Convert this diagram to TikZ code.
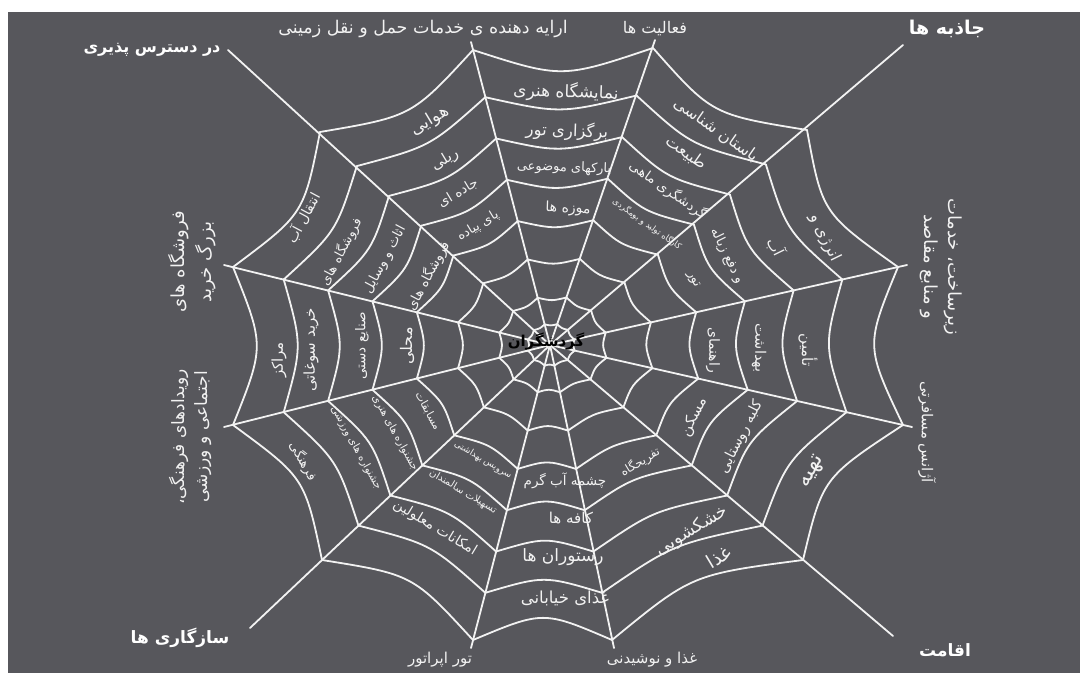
\documentclass[tikz,border=0pt]{standalone}
\usepackage{fontspec}
\usetikzlibrary{calc}
\newfontfamily\arabicfont[Script=Arabic]{DejaVu Sans}
\TeXXeTstate=1
\newcommand\fatext[1]{{\arabicfont\beginR #1\endR}}
\newcommand\fsz[1]{\fontsize{#1}{#1}\selectfont}
\definecolor{bg}{RGB}{87,87,92}
\definecolor{web}{RGB}{242,242,242}
\tikzset{
  webline/.style={draw=web, line width=1.8pt, line cap=round, line join=round},
  lbl/.style={text=web, inner sep=0pt, align=center},
  cat/.style={text=white, inner sep=0pt, align=center, font=\bfseries}
}
\begin{document}
\begin{tikzpicture}[x=1pt,y=-1pt]
\useasboundingbox (0,0) rectangle (1084,675);
\fill[white] (0,0) rectangle (1084,675);
\fill[bg] (8,12) rectangle (1080,673);
% centre and outer vertices of the twelve spokes
\coordinate (C) at (550,345);
\coordinate (V1) at (473,50);
\coordinate (V2) at (653,48);
\coordinate (V3) at (807,130);
\coordinate (V4) at (898,267);
\coordinate (V5) at (903,425);
\coordinate (V6) at (803,560);
\coordinate (V7) at (612,640);
\coordinate (V8) at (473,640);
\coordinate (V9) at (322,560);
\coordinate (V10) at (233,425);
\coordinate (V11) at (233,267);
\coordinate (V12) at (320,132);
% spoke ends
\coordinate (E1) at (471,42);
\coordinate (E2) at (655,40);
\coordinate (E3) at (903,45);
\coordinate (E4) at (907,265);
\coordinate (E5) at (912,427);
\coordinate (E6) at (893,636);
\coordinate (E7) at (614,648);
\coordinate (E8) at (471,648);
\coordinate (E9) at (250,628);
\coordinate (E10) at (224,427);
\coordinate (E11) at (224,265);
\coordinate (E12) at (228,50);
\foreach \a/\b in {1/2,2/3,3/4,4/5,5/6,6/7,7/8,8/9,9/10,10/11,11/12,12/1}{
  \coordinate (M\a) at ($(V\a)!0.5!(V\b)$);
}
% spokes
\foreach \i in {1,...,12}{
  \draw[webline] (C) -- (E\i);
}
% rings
\foreach \f/\k in {1/0.10,0.84/0.07,0.70/0.07,0.56/0.07,0.42/0.07,0.29/0.07,0.16/0.07,0.07/0.07}{
  \pgfmathsetmacro\g{\f*(1-\k)}
  \foreach \a/\b in {1/2,2/3,3/4,4/5,5/6,6/7,7/8,8/9,9/10,10/11,11/12,12/1}{
    \draw[webline] ($(C)!\f!(V\a)$) .. controls ($(C)!\g!(M\a)$) .. ($(C)!\f!(V\b)$);
  }
}
% category labels
\node[cat] (c1) at (152,50) {\fsz{16}\fatext{در دسترس پذیری}};
\node[lbl] (c2) at (423,29) {\fsz{17.5}\fatext{ارایه دهنده ی خدمات حمل و نقل زمینی}};
\node[lbl] (c3) at (655,29) {\fsz{16}\fatext{فعالیت ها}};
\node[cat] (c4) at (947,29) {\fsz{19}\fatext{جاذبه ها}};
\node[lbl, rotate=-90] (c5) at (941,267) {\fsz{18}\fatext{زیرساخت، خدمات}\\[5pt]\fsz{18}\fatext{و منابع مقاصد}};
\node[lbl, rotate=-90] (c6) at (927,432) {\fsz{15}\fatext{آژانس مسافرتی}};
\node[cat] (c7) at (945,650) {\fsz{17}\fatext{اقامت}};
\node[lbl] (c8) at (652,660) {\fsz{15}\fatext{غذا و نوشیدنی}};
\node[lbl] (c9) at (440,660) {\fsz{15}\fatext{تور اپراتور}};
\node[cat] (c10) at (180,638) {\fsz{17}\fatext{سازگاری ها}};
\node[lbl, rotate=90] (c11) at (190,437) {\fsz{17}\fatext{رویدادهای فرهنگی،}\\[5pt]\fsz{17}\fatext{اجتماعی و ورزشی}};
\node[lbl, rotate=90] (c12) at (192,262) {\fsz{18}\fatext{فروشگاه های}\\[5pt]\fsz{18}\fatext{بزرگ خرید}};
% sector 1
\node[lbl, rotate=-2] (a1) at (566,92) {\fsz{17}\fatext{نمایشگاه هنری}};
\node[lbl, rotate=-2] (a2) at (567,131) {\fsz{16.5}\fatext{برگزاری تور}};
\node[lbl, rotate=-2] (a3) at (564,168) {\fsz{13}\fatext{پارکهای موضوعی}};
\node[lbl, rotate=-2] (a4) at (568,209) {\fsz{14}\fatext{موزه ها}};
% sector 2
\node[lbl, rotate=-35] (b1) at (716,130) {\fsz{16}\fatext{باستان شناسی}};
\node[lbl, rotate=-35] (b2) at (686,153) {\fsz{16}\fatext{طبیعت}};
\node[lbl, rotate=-35] (b3) at (668,190) {\fsz{13.5}\fatext{گردشگری ماهی}};
\node[lbl, rotate=-35] (b4) at (647,224) {\fsz{8.5}\fatext{کارگاه تولید و بومگردی}};
% sector 3
\node[lbl, rotate=-64] (d1) at (825,238) {\fsz{16}\fatext{انرژی و}};
\node[lbl, rotate=-64] (d2) at (776,247) {\fsz{15}\fatext{آب}};
\node[lbl, rotate=-64] (d3) at (727,256) {\fsz{13.5}\fatext{و دفع زباله}};
\node[lbl, rotate=-64] (d4) at (693,280) {\fsz{13}\fatext{تور}};
% sector 4
\node[lbl, rotate=-90] (e1) at (808,350) {\fsz{15}\fatext{تأمین}};
\node[lbl, rotate=-90] (e2) at (759,348) {\fsz{14.5}\fatext{بهداشت}};
\node[lbl, rotate=-90] (e3) at (713,350) {\fsz{14}\fatext{راهنمای}};
% sector 5
\node[lbl, rotate=63] (f1) at (694,417) {\fsz{15}\fatext{مسکن}};
\node[lbl, rotate=63] (f2) at (741,437) {\fsz{14.5}\fatext{کلبه روستایی}};
\node[lbl, rotate=63] (f3) at (813,472) {\fsz{22}\fatext{تهیه}};
% sector 6
\node[lbl, rotate=31] (g1) at (640,462) {\fsz{12}\fatext{تفریحگاه}};
\node[lbl, rotate=31] (g2) at (692,531) {\fsz{17.5}\fatext{خشکشویی}};
\node[lbl, rotate=31] (g3) at (719,557) {\fsz{19}\fatext{غذا}};
% sector 7
\node[lbl] (h1) at (565,481) {\fsz{13.5}\fatext{چشمه آب گرم}};
\node[lbl] (h2) at (571,518) {\fsz{15}\fatext{کافه ها}};
\node[lbl] (h3) at (563,557) {\fsz{17}\fatext{رستوران ها}};
\node[lbl] (h4) at (565,598) {\fsz{16.5}\fatext{غذای خیابانی}};
% sector 8
\node[lbl, rotate=-31] (i1) at (483,460) {\fsz{9}\fatext{سرویس بهداشتی}};
\node[lbl, rotate=-31] (i2) at (463,492) {\fsz{10}\fatext{تسهیلات سالمندان}};
\node[lbl, rotate=-31] (i3) at (435,528) {\fsz{14}\fatext{امکانات معلولین}};
% sector 9
\node[lbl, rotate=-61] (j1) at (303,461) {\fsz{13}\fatext{فرهنگی}};
\node[lbl, rotate=-61] (j2) at (356,448) {\fsz{10.5}\fatext{جشنواره های ورزشی}};
\node[lbl, rotate=-61] (j3) at (395,433) {\fsz{10.5}\fatext{جشنواره های هنری}};
\node[lbl, rotate=-61] (j4) at (428,411) {\fsz{11}\fatext{مسابقات}};
% sector 10
\node[lbl, rotate=90] (k1) at (279,360) {\fsz{15}\fatext{مراکز}};
\node[lbl, rotate=90] (k2) at (311,350) {\fsz{15}\fatext{خرید سوغاتی}};
\node[lbl, rotate=90] (k3) at (362,346) {\fsz{13.5}\fatext{صنایع دستی}};
\node[lbl, rotate=90] (k4) at (407,346) {\fsz{16}\fatext{محلی}};
% sector 11
\node[lbl, rotate=62] (l1) at (303,218) {\fsz{14}\fatext{انتقال آب}};
\node[lbl, rotate=62] (l2) at (341,252) {\fsz{13}\fatext{فروشگاه های}};
\node[lbl, rotate=62] (l3) at (385,260) {\fsz{13.5}\fatext{اثاث و وسایل}};
\node[lbl, rotate=62] (l4) at (428,276) {\fsz{13.5}\fatext{فروشگاه های}};
% sector 12
\node[lbl, rotate=31] (m1) at (430,121) {\fsz{17}\fatext{هوایی}};
\node[lbl, rotate=31] (m2) at (445,160) {\fsz{15}\fatext{ریلی}};
\node[lbl, rotate=31] (m3) at (458,193) {\fsz{13.5}\fatext{جاده ای}};
\node[lbl, rotate=31] (m4) at (478,226) {\fsz{13}\fatext{پای پیاده}};
% centre label
\node[inner sep=0pt, text=black] (ctr) at (546,342) {\bfseries\fsz{15}\fatext{گردشگران}};
\end{tikzpicture}
\end{document}
